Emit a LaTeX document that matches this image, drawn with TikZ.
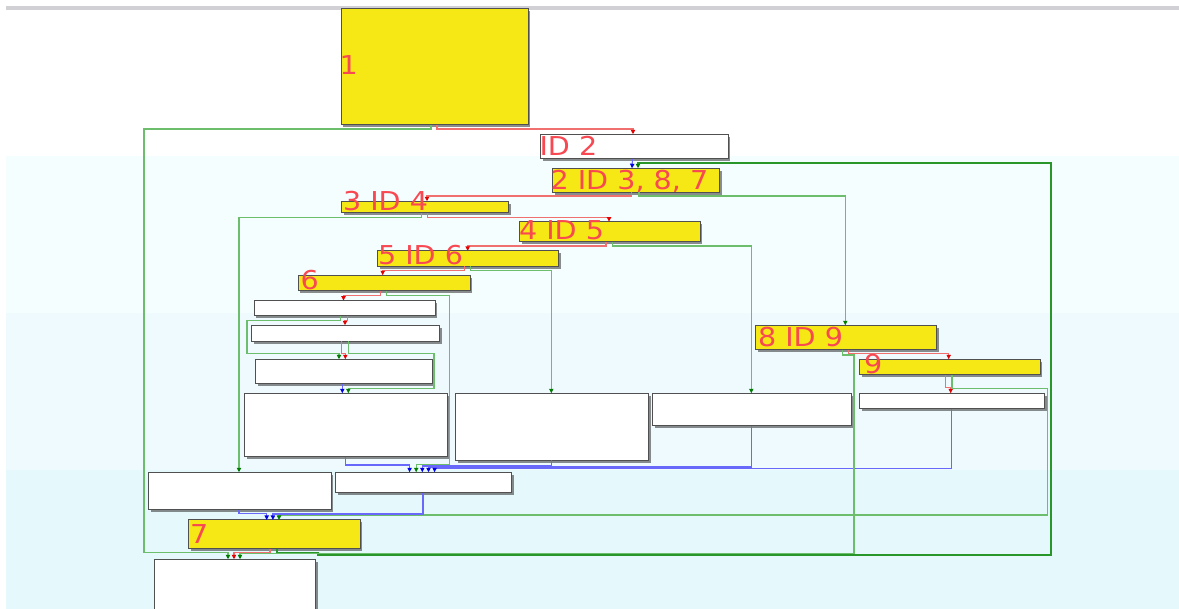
\documentclass[tikz,border=0pt]{standalone}
\usepackage{fontspec}
\newfontfamily\lblfont[FakeStretch=1.1]{DejaVu Sans}
\usetikzlibrary{arrows.meta,shadows}

\definecolor{boxyellow}{RGB}{246,232,20}
\definecolor{boxline}{RGB}{80,80,80}
\definecolor{lblred}{RGB}{248,72,82}
\definecolor{edgered}{RGB}{240,112,112}
\definecolor{edgegreen}{RGB}{108,190,108}
\definecolor{edgeblue}{RGB}{104,104,250}
\definecolor{loopgreen}{RGB}{40,150,40}
\definecolor{tipred}{RGB}{228,0,0}
\definecolor{tipgreen}{RGB}{0,125,0}
\definecolor{tipblue}{RGB}{0,0,230}
\definecolor{bandA}{RGB}{245,254,254}
\definecolor{bandB}{RGB}{238,250,254}
\definecolor{bandC}{RGB}{229,248,252}
\definecolor{rulegrey}{RGB}{208,208,213}

\tikzset{
  blk/.style={draw=boxline, line width=0.75pt, inner sep=0pt, outer sep=0pt,
    anchor=north west,
    drop shadow={shadow xshift=1.8pt, shadow yshift=-1.8pt, opacity=0.6, fill=black!75}},
  yblk/.style={blk, fill=boxyellow},
  wblk/.style={blk, fill=white},
  sz/.style 2 args={minimum width=#1*0.75pt, minimum height=#2*0.75pt},
  lbl/.style={anchor=base west, inner sep=0pt, outer sep=0pt, text=lblred,
    font=\lblfont\fontsize{19.5}{20}\selectfont},
  redge/.style={draw=edgered, line width=0.85pt,
    -{Triangle[length=3.4pt,width=3.2pt,color=tipred,fill=tipred]}},
  gedge/.style={draw=edgegreen, line width=0.85pt,
    -{Triangle[length=3.4pt,width=3.2pt,color=tipgreen,fill=tipgreen]}},
  bedge/.style={draw=edgeblue, line width=0.85pt,
    -{Triangle[length=3.4pt,width=3.2pt,color=tipblue,fill=tipblue]}},
  loopedge/.style={draw=loopgreen, line width=1.1pt,
    -{Triangle[length=3.4pt,width=3.2pt,color=tipgreen,fill=tipgreen]}},
}

\begin{document}
\begin{tikzpicture}[x=0.75pt, y=-0.75pt]
\useasboundingbox (0,0) rectangle (1179,609);
\clip (0,0) rectangle (1179,609);

% background bands
\fill[white] (0,0) rectangle (1179,609);
\fill[bandA] (6,156) rectangle (1179,313);
\fill[bandB] (6,313) rectangle (1179,470);
\fill[bandC] (6,470) rectangle (1179,609);
\fill[rulegrey] (6,6.5) rectangle (1179,9.8);

% blocks
\node[yblk, sz={187}{116}]     (n1)  at (341,9) {};
\node[wblk, sz={187.5}{24.5}]  (nid2) at (540.5,134.3) {};
\node[yblk, sz={167}{24}]      (n2)  at (552.3,168.3) {};
\node[yblk, sz={167}{11.4}]    (n3)  at (341.3,201.3) {};
\node[yblk, sz={180.7}{20.3}]  (n4)  at (519.3,221.7) {};
\node[yblk, sz={181}{15.3}]    (n5)  at (377.5,251) {};
\node[yblk, sz={172}{15.7}]    (n6)  at (298,275.3) {};
\node[wblk, sz={181}{15.3}]    (nA)  at (254,300.7) {};
\node[wblk, sz={188}{16}]      (nB)  at (251.3,325.3) {};
\node[wblk, sz={176.7}{24.7}]  (nC)  at (255.3,359.3) {};
\node[wblk, sz={203}{63.4}]    (nD)  at (244.3,393.3) {};
\node[wblk, sz={193.4}{67}]    (nE)  at (455.3,393.3) {};
\node[wblk, sz={199.4}{32.7}]  (nF)  at (652.3,393.3) {};
\node[yblk, sz={181.4}{24.7}]  (n8)  at (755.3,325.3) {};
\node[yblk, sz={180.7}{15.7}]  (n9)  at (859.3,359.3) {};
\node[wblk, sz={185}{15.7}]    (nG)  at (859.3,393.3) {};
\node[wblk, sz={182.7}{37.7}]  (nH)  at (148.3,472.3) {};
\node[wblk, sz={176.5}{20.4}]  (nI)  at (335.1,472.3) {};
\node[yblk, sz={171.7}{28.7}]  (n7)  at (188.3,520) {};
\node[wblk, sz={161}{70}]      (nJ)  at (154.3,559.3) {};

% connectors
\draw[gedge] (431,0 |- n1.south) |- (144,129) |- (228,552.3) -- (228,0 |- nJ.north);
\draw[redge] (437,0 |- n1.south) |- (633,129) -- (633,0 |- nid2.north);
\draw[bedge] (632.5,0 |- nid2.south) -- (632,0 |- n2.north);
\draw[loopedge] (277,0 |- n7.south) |- (318,552.3) |- (1051,555) |- (638,163) -- (638,0 |- n2.north);
\draw[redge] (631.7,0 |- n2.south) |- (427,196) -- (427,0 |- n3.north);
\draw[gedge] (639,0 |- n2.south) |- (845.3,196) -- (845.3,0 |- n8.north);
\draw[gedge] (421.7,0 |- n3.south) |- (239,217.3) -- (239,0 |- nH.north);
\draw[redge] (427.7,0 |- n3.south) |- (609,217.7) -- (609,0 |- n4.north);
\draw[redge] (606,0 |- n4.south) |- (467.7,246) -- (467.7,0 |- n5.north);
\draw[gedge] (612.7,0 |- n4.south) |- (751.3,246) -- (751.3,0 |- nF.north);
\draw[redge] (464.3,0 |- n5.south) |- (382.7,270.7) -- (382.7,0 |- n6.north);
\draw[gedge] (470.7,0 |- n5.south) |- (551.3,270.7) -- (551.3,0 |- nE.north);
\draw[redge] (380.7,0 |- n6.south) |- (343.5,295.3) -- (343.5,0 |- nA.north);
\draw[gedge] (386.3,0 |- n6.south) |- (449.5,295.3) |- (416.2,464.3) -- (416.2,0 |- nI.north);
\draw[gedge] (340.7,0 |- nA.south) |- (247,320.3) |- (339,353.3) -- (339,0 |- nC.north);
\draw[redge] (347.7,0 |- nA.south) |- (345,320.5) -- (345,0 |- nB.north);
\draw[redge] (341.7,0 |- nB.south) |- (345.3,353.3) -- (345.3,0 |- nC.north);
\draw[gedge] (348.7,0 |- nB.south) |- (434,353.3) |- (348.3,388.3) -- (348.3,0 |- nD.north);
\draw[bedge] (342.3,0 |- nC.south) -- (342.3,0 |- nD.north);
\draw[bedge] (345.3,0 |- nD.south) |- (409.6,465) -- (409.6,0 |- nI.north);
\draw[bedge] (551.7,0 |- nE.south) |- (422.3,466) -- (422.3,0 |- nI.north);
\draw[bedge] (751.3,0 |- nF.south) |- (428.5,467) -- (428.5,0 |- nI.north);
\draw[bedge] (951.3,0 |- nG.south) |- (434.6,468.3) -- (434.6,0 |- nI.north);
\draw[redge] (848.3,0 |- n8.south) |- (948.7,353.3) -- (948.7,0 |- n9.north);
\draw[gedge] (842.3,0 |- n8.south) |- (854,355) |- (240,553.5) -- (240,0 |- nJ.north);
\draw[redge] (945.3,0 |- n9.south) |- (950.7,387.7) -- (950.7,0 |- nG.north);
\draw[gedge] (952,0 |- n9.south) |- (1047.3,388.3) |- (279,515) -- (279,0 |- n7.north);
\draw[bedge] (239,0 |- nH.south) |- (266.7,513.3) -- (266.7,0 |- n7.north);
\draw[bedge] (423,0 |- nI.south) |- (272.9,514) -- (272.9,0 |- n7.north);
\draw[redge] (270,0 |- n7.south) |- (234,552.3) -- (234,0 |- nJ.north);

% block captions
\node[lbl] (t1)  at (339.5,75)   {1};
\node[lbl] (t2)  at (539.5,156)  {ID 2};
\node[lbl] (t3)  at (550.5,189.3) {2 ID 3, 8, 7};
\node[lbl] (t4)  at (343,210.7)  {3 ID 4};
\node[lbl] (t5)  at (519,240)    {4 ID 5};
\node[lbl] (t6)  at (378,265)    {5 ID 6};
\node[lbl] (t7)  at (300.5,289.8) {6};
\node[lbl] (t8)  at (758,346.7)  {8 ID 9};
\node[lbl] (t9)  at (864,373.3)  {9};
\node[lbl] (t10) at (190,543.3)  {7};
\end{tikzpicture}
\end{document}
